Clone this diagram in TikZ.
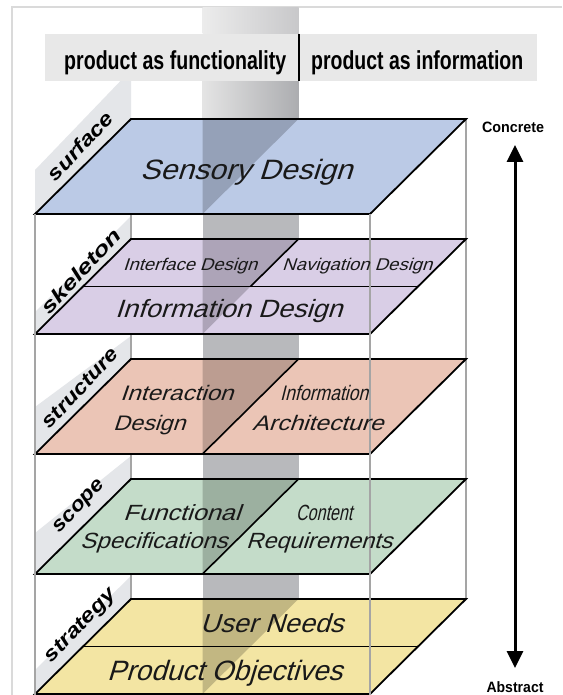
\documentclass[tikz,border=0pt]{standalone}
\usepackage{fontspec}
\usepackage{graphicx}
\usetikzlibrary{arrows.meta}
\setmainfont{Liberation Sans}
\newfontfamily\layfont{Liberation Sans}[FakeSlant=0.3]
\newfontfamily\headfont{Liberation Sans Bold}
\newfontfamily\sidefont{Liberation Sans Bold Italic}
\newcommand\fw[2]{\resizebox{#1pt}{\height}{#2}}
\newcommand\fs[1]{\fontsize{#1}{#1}\selectfont}
\definecolor{surfacecol}{RGB}{187,202,230}
\definecolor{skeletoncol}{RGB}{217,206,230}
\definecolor{structurecol}{RGB}{235,197,182}
\definecolor{scopecol}{RGB}{196,220,201}
\definecolor{strategycol}{RGB}{243,229,163}
\definecolor{panelgray}{RGB}{228,230,233}
\definecolor{headgray}{RGB}{232,232,232}
\definecolor{framegray}{RGB}{165,165,165}
\definecolor{cardgray}{RGB}{218,218,218}
\definecolor{bandgray}{RGB}{184,185,188}
\definecolor{textdark}{RGB}{25,25,25}
\begin{document}
\begin{tikzpicture}[x=1pt,y=-1pt,
  frameline/.style={draw=framegray,line width=2pt},
  layeredge/.style={draw=black,line width=1.8pt,line join=miter},
  innerline/.style={draw=black,line width=1.6pt},
  shadetri/.style={fill=black,fill opacity=0.2},
  laytext/.style={inner sep=0pt,anchor=base west,text=textdark,font=\layfont},
  sidelab/.style={inner sep=0pt,rotate=47,font=\sidefont,text=black},
  headtext/.style={inner sep=0pt,anchor=base west,font=\headfont,text=black},
  endlab/.style={inner sep=0pt,font=\headfont,text=black},
]
\useasboundingbox (0,0) rectangle (562,695);
\fill[white] (0,0) rectangle (562,695);
% card border
\draw[cardgray,line width=2pt] (12,695) -- (12,7) -- (562,7);
% vertical band
\fill[bandgray] (202.5,8) rectangle (298.5,695);
\shade[left color={rgb,255:red,236;green,236;blue,236},right color={rgb,255:red,200;green,200;blue,202}] (202.5,8) rectangle (298.5,34);
\shade[left color={rgb,255:red,228;green,228;blue,228},right color={rgb,255:red,172;green,173;blue,176}] (202.5,81) rectangle (298.5,119);
% side panels
\fill[panelgray] (35,214) -- (131,119) -- (131,70) -- (35,170) -- cycle;
\fill[panelgray] (35,334) -- (131,239) -- (131,216) -- (35,312) -- cycle;
\fill[panelgray] (35,454) -- (131,359) -- (131,336) -- (35,407) -- cycle;
\fill[panelgray] (35,574) -- (131,479) -- (131,456) -- (35,533) -- cycle;
\fill[panelgray] (35,694) -- (131,599) -- (131,576) -- (35,670) -- cycle;
% back vertical lines
\draw[frameline] (131,119) -- (131,599);
\draw[frameline] (466,119) -- (466,599);
% surface
\begin{scope}[shift={(0,119)}]
  \fill[surfacecol] (131,0) -- (466,0) -- (370,95) -- (35,95) -- cycle;
  \fill[shadetri] (202.5,0) -- (298.5,0) -- (202.5,95) -- cycle;
  \draw[layeredge] (131,0) -- (466,0) -- (370,95) -- (35,95) -- cycle;
\end{scope}
% skeleton
\begin{scope}[shift={(0,239)}]
  \fill[skeletoncol] (131,0) -- (466,0) -- (370,95) -- (35,95) -- cycle;
  \fill[shadetri] (202.5,0) -- (298.5,0) -- (202.5,95) -- cycle;
  \draw[innerline] (83,47.5) -- (418,47.5);
  \draw[innerline] (298.5,0) -- (250.5,47.5);
  \draw[layeredge] (131,0) -- (466,0) -- (370,95) -- (35,95) -- cycle;
\end{scope}
% structure
\begin{scope}[shift={(0,359)}]
  \fill[structurecol] (131,0) -- (466,0) -- (370,95) -- (35,95) -- cycle;
  \fill[shadetri] (202.5,0) -- (298.5,0) -- (202.5,95) -- cycle;
  \draw[innerline] (298.5,0) -- (202.5,95);
  \draw[layeredge] (131,0) -- (466,0) -- (370,95) -- (35,95) -- cycle;
\end{scope}
% scope
\begin{scope}[shift={(0,479)}]
  \fill[scopecol] (131,0) -- (466,0) -- (370,95) -- (35,95) -- cycle;
  \fill[shadetri] (202.5,0) -- (298.5,0) -- (202.5,95) -- cycle;
  \draw[innerline] (298.5,0) -- (202.5,95);
  \draw[layeredge] (131,0) -- (466,0) -- (370,95) -- (35,95) -- cycle;
\end{scope}
% strategy
\begin{scope}[shift={(0,599)}]
  \fill[strategycol] (131,0) -- (466,0) -- (370,95) -- (35,95) -- cycle;
  \fill[shadetri] (202.5,0) -- (298.5,0) -- (202.5,95) -- cycle;
  \draw[innerline] (83,47.5) -- (418,47.5);
  \draw[layeredge] (131,0) -- (466,0) -- (370,95) -- (35,95) -- cycle;
\end{scope}
% front vertical lines
\draw[frameline] (35,214) -- (35,695);
\draw[frameline] (370,214) -- (370,695);
% header
\fill[headgray] (45,34) rectangle (537,81);
\draw[black,line width=2pt] (298.5,34) -- (298.5,81);
\node[headtext] (hfun) at (64,70) {\fw{222}{\fs{26}product as functionality}};
\node[headtext] (hinf) at (311,70) {\fw{212}{\fs{26}product as information}};
% layer texts
\node[laytext] (sensory) at (140,179) {\fw{212}{\fs{28}Sensory Design}};
\node[laytext] (interface) at (123,270) {\fw{134}{\fs{17}Interface Design}};
\node[laytext] (navigation) at (282,270) {\fw{150}{\fs{17}Navigation Design}};
\node[laytext] (infodesign) at (115,317) {\fw{227}{\fs{25}Information Design}};
\node[laytext] (interaction1) at (120,400) {\fw{113}{\fs{21}Interaction}};
\node[laytext] (interaction2) at (113,430) {\fw{72}{\fs{21}Design}};
\node[laytext] (infoarch1) at (280,400) {\fw{88}{\fs{21}Information}};
\node[laytext] (infoarch2) at (252,430) {\fw{131}{\fs{21}Architecture}};
\node[laytext] (func1) at (123,520) {\fw{117}{\fs{22}Functional}};
\node[laytext] (func2) at (80,548) {\fw{147}{\fs{22}Specifications}};
\node[laytext] (content1) at (296,520) {\fw{56}{\fs{22}Content}};
\node[laytext] (content2) at (246,548) {\fw{146}{\fs{22}Requirements}};
\node[laytext] (userneeds) at (200,632) {\fw{143}{\fs{26}User Needs}};
\node[laytext] (prodobj) at (107,680) {\fw{235}{\fs{28}Product Objectives}};
% side labels
\node[sidelab] (lsurface) at (80,146) {\fw{86}{\fs{20}surface}};
\node[sidelab] (lskeleton) at (81,271) {\fw{108}{\fs{20}skeleton}};
\node[sidelab] (lstructure) at (80,388) {\fw{102}{\fs{20}structure}};
\node[sidelab] (lscope) at (80,507) {\fw{66}{\fs{20}scope}};
\node[sidelab] (lstrategy) at (81,626) {\fw{95}{\fs{20}strategy}};
% concrete / abstract
\node[endlab] (concrete) at (513,127) {\fw{62}{\fs{15}Concrete}};
\node[endlab] (abstract) at (515,687) {\fw{57}{\fs{15}Abstract}};
\coordinate (arrtop) at (515,145);
\coordinate (arrbot) at (515,668);
\draw[line width=3pt,{Triangle[width=16pt,length=17pt]}-{Triangle[width=16pt,length=17pt]}] (arrtop) -- (arrbot);
\end{tikzpicture}
\end{document}
